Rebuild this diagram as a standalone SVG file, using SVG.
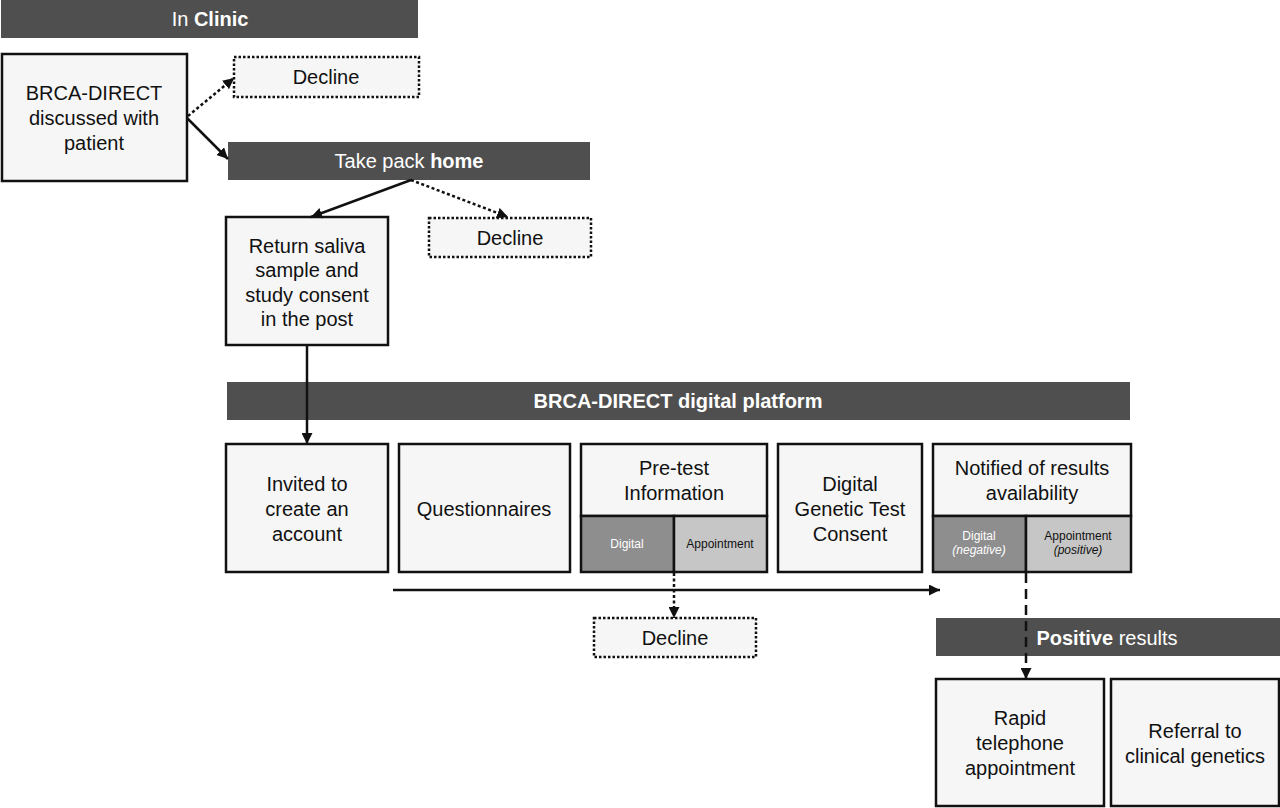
<svg xmlns="http://www.w3.org/2000/svg" width="1280" height="808" viewBox="0 0 1280 808">
<defs>
<style>
text{font-family:"Liberation Sans",Arial,sans-serif;font-size:20px;text-anchor:middle;fill:#111}
.bar{fill:#4f4f4f}
.bt{fill:#fff}
.box{fill:#f6f6f6;stroke:#111;stroke-width:2.5}
.dbox{fill:#f6f6f6;stroke:#111;stroke-width:2.5;stroke-dasharray:2.5 2}
.dk{fill:#8e8e8e;stroke:#111;stroke-width:2.5}
.lt{fill:#c6c6c6;stroke:#111;stroke-width:2.5}
.sm{font-size:12px}
.w{fill:#fff}
.b{font-weight:bold}
.ln{fill:none;stroke:#111;stroke-width:2.5}
.dot{stroke-dasharray:3 2.5}
.dash{stroke-dasharray:10 6}
</style>
<marker id="ah" viewBox="0 0 10 10" refX="10" refY="5" markerWidth="11" markerHeight="11" markerUnits="userSpaceOnUse" orient="auto">
<path d="M0,0 L10,5 L0,10 z" fill="#111"/>
</marker>
</defs>

<g id="bar-clinic"><rect class="bar" x="1" y="0" width="417" height="38"/><text class="bt" x="210" y="26">In <tspan class="b">Clinic</tspan></text></g>

<g id="node-discussed"><rect class="box" x="2" y="54" width="185" height="127"/>
<text x="94" y="100">BRCA-DIRECT</text><text x="94" y="125">discussed with</text><text x="94" y="150">patient</text></g>

<g id="node-decline1"><rect class="dbox" x="234" y="57" width="185" height="40"/><text x="326" y="84">Decline</text></g>

<g id="bar-home"><rect class="bar" x="228" y="142" width="362" height="38"/><text class="bt" x="409" y="168">Take pack <tspan class="b">home</tspan></text></g>

<g id="node-decline2"><rect class="dbox" x="429" y="218" width="162" height="39"/><text x="510" y="245">Decline</text></g>

<g id="node-return"><rect class="box" x="226" y="217" width="162" height="128"/>
<text x="307" y="253">Return saliva</text><text x="307" y="277">sample and</text><text x="307" y="302">study consent</text><text x="307" y="326">in the post</text></g>

<g id="bar-platform"><rect class="bar" x="227" y="382" width="903" height="38"/><text class="bt b" x="678" y="408">BRCA-DIRECT digital platform</text></g>

<g id="node-invited"><rect class="box" x="226" y="444" width="162" height="128"/>
<text x="307" y="491">Invited to</text><text x="307" y="516">create an</text><text x="307" y="541">account</text></g>

<g id="node-questionnaires"><rect class="box" x="399" y="444" width="171" height="128"/><text x="484" y="516">Questionnaires</text></g>

<g id="node-pretest"><rect class="box" x="581" y="444" width="186" height="72"/>
<text x="674" y="475">Pre-test</text><text x="674" y="500">Information</text>
<rect class="dk" x="581" y="516" width="93" height="56"/><rect class="lt" x="674" y="516" width="93" height="56"/>
<text class="sm w" x="627" y="548">Digital</text><text class="sm" x="720" y="548">Appointment</text></g>

<g id="node-consent"><rect class="box" x="778" y="444" width="144" height="128"/>
<text x="850" y="491">Digital</text><text x="850" y="516">Genetic Test</text><text x="850" y="541">Consent</text></g>

<g id="node-notified"><rect class="box" x="933" y="444" width="198" height="72"/>
<text x="1032" y="475">Notified of results</text><text x="1032" y="500">availability</text>
<rect class="dk" x="933" y="516" width="93" height="56"/><rect class="lt" x="1026" y="516" width="105" height="56"/>
<text class="sm w" x="979" y="540">Digital</text><text class="sm w" x="979" y="554" font-style="italic">(negative)</text>
<text class="sm" x="1078" y="540">Appointment</text><text class="sm" x="1078" y="554" font-style="italic">(positive)</text></g>

<g id="node-decline3"><rect class="dbox" x="594" y="618" width="162" height="39"/><text x="675" y="645">Decline</text></g>

<g id="bar-positive"><rect class="bar" x="936" y="618" width="344" height="38"/><text class="bt" x="1107" y="645"><tspan class="b">Positive</tspan> results</text></g>

<g id="node-rapid"><rect class="box" x="936" y="679" width="168" height="127"/>
<text x="1020" y="725">Rapid</text><text x="1020" y="750">telephone</text><text x="1020" y="775">appointment</text></g>

<g id="node-referral"><rect class="box" x="1111" y="679" width="168" height="127"/>
<text x="1195" y="738">Referral to</text><text x="1195" y="763">clinical genetics</text></g>

<g id="connectors">
<line class="ln dot" x1="188" y1="116" x2="234" y2="78" marker-end="url(#ah)"/>
<line class="ln" x1="187" y1="118" x2="228" y2="159" marker-end="url(#ah)"/>
<line class="ln" x1="411" y1="180" x2="311" y2="217" marker-end="url(#ah)"/>
<line class="ln dot" x1="411" y1="180" x2="508" y2="217" marker-end="url(#ah)"/>
<line class="ln" x1="307" y1="345" x2="307" y2="444" marker-end="url(#ah)"/>
<line class="ln" x1="393" y1="590" x2="940" y2="590" marker-end="url(#ah)"/>
<line class="ln dot" x1="674" y1="573" x2="674" y2="618" marker-end="url(#ah)"/>
<line class="ln dash" x1="1026" y1="573" x2="1026" y2="679" marker-end="url(#ah)"/>
</g>
</svg>
